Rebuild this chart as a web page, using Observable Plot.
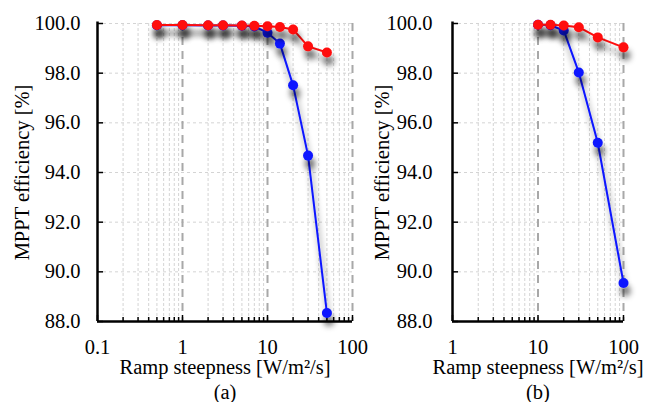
<!DOCTYPE html>
<html><head><meta charset="utf-8">
<script src="https://cdn.jsdelivr.net/npm/d3@7"></script>
<script src="https://cdn.jsdelivr.net/npm/@observablehq/plot@0.6"></script>
<style>
body{margin:0;background:#fff}
#wrap{position:relative;width:655px;height:402px;overflow:hidden}
#a,#b{position:absolute;top:0}
#a{left:0}
#b{left:360px}
</style>
</head><body><div id="wrap"><div id="a"></div><div id="b"></div></div>
<script>
// Panel (a)
const xA = [0.5, 1, 2, 3, 5, 7, 10, 14, 20, 30, 50];
const blueA = [99.93, 99.93, 99.92, 99.92, 99.91, 99.88, 99.63, 99.19, 97.51, 94.68, 88.34];
const redA = [99.94, 99.94, 99.93, 99.93, 99.92, 99.91, 99.89, 99.86, 99.76, 99.08, 98.83];
// Panel (b)
const xB = [10, 14, 20, 30, 50, 100];
const blueB = [99.95, 99.93, 99.72, 98.03, 95.20, 89.55];
const redB = [99.95, 99.95, 99.92, 99.85, 99.44, 99.04];
// Axes
const yTicks = [88, 90, 92, 94, 96, 98, 100];
const xTicksA = [0.1, 1, 10, 100];
const xTicksB = [1, 10, 100];
const yLabel = "MPPT efficiency [%]";
const xLabel = "Ramp steepness [W/m\u00b2/s]";
const captions = ["(a)", "(b)"];

function minorTicks(majors) {
  const out = [];
  for (let i = 0; i < majors.length - 1; i++)
    for (let d = 2; d <= 9; d++) out.push(+(majors[i] * d).toPrecision(6));
  return out;
}

function panel(el, id, cfg) {
  const {xs, blue, red, majors, width, marginLeft, marginRight, yPad, yLabelDx, caption} = cfg;
  const height = 402, marginTop = 23, marginBottom = 81;
  const innerH = height - marginTop - marginBottom;
  const innerW = width - marginLeft - marginRight;
  const minors = minorTicks(majors);
  const B = xs.map((x, i) => ({x, y: blue[i]}));
  const R = xs.map((x, i) => ({x, y: red[i]}));
  const svg = Plot.plot({
    width, height, marginTop, marginBottom, marginLeft, marginRight,
    style: {fontFamily: "'Liberation Serif', 'Times New Roman', serif", fontSize: "20.5px", background: "transparent", overflow: "visible", color: "black"},
    x: {type: "log", domain: [majors[0], majors[majors.length - 1]]},
    y: {domain: [88, 100]},
    marks: [
      Plot.ruleY(yTicks.slice(1), {y: d => d, stroke: "#d4d4d4", strokeWidth: 1, strokeDasharray: "3,3"}),
      Plot.ruleX(minors, {x: d => d, stroke: "#d4d4d4", strokeWidth: 1, strokeDasharray: "3,2"}),
      Plot.ruleX(majors.slice(1), {x: d => d, stroke: "#a8a8a8", strokeWidth: 2, strokeDasharray: "8,6"}),
      Plot.tickX(minors, {x: d => d, insetTop: innerH - 4, stroke: "black", strokeWidth: 1.5}),
      Plot.tickX(majors, {x: d => d, insetTop: innerH - 6, stroke: "black", strokeWidth: 1.5}),
      Plot.tickY(yTicks, {y: d => d, insetRight: innerW - 6, stroke: "black", strokeWidth: 1.5}),
      Plot.ruleX([majors[0]], {x: d => d, stroke: "black", strokeWidth: 2.5, insetTop: -1.5}),
      Plot.ruleY([88], {y: d => d, stroke: "black", strokeWidth: 2.5}),
      Plot.axisX(majors, {tickSize: 0, tickPadding: 18, tickFormat: d => String(d), label: null}),
      Plot.axisY(yTicks, {tickSize: 0, tickPadding: yPad, tickFormat: d3.format(".1f"), label: null}),
      Plot.line(B, {x: "x", y: "y", stroke: "#0a14ff", strokeWidth: 2}),
      Plot.dot(B, {x: "x", y: "y", r: 5, fill: "#0a14ff"}),
      Plot.line(R, {x: "x", y: "y", stroke: "#ff0a0a", strokeWidth: 2}),
      Plot.dot(R, {x: "x", y: "y", r: 5, fill: "#ff0a0a"}),
      Plot.text([yLabel], {text: d => d, frameAnchor: "left", textAnchor: "middle", lineAnchor: "middle", rotate: -90, dx: yLabelDx}),
      Plot.text([xLabel], {text: d => d, frameAnchor: "bottom", textAnchor: "middle", lineAnchor: "middle", dy: 46}),
      Plot.text([caption], {text: d => d, frameAnchor: "bottom", textAnchor: "middle", lineAnchor: "middle", dy: 71})
    ]
  });
  const s = d3.select(svg);
  s.insert("defs", ":first-child").html(
    `<filter id="sh-${id}" filterUnits="userSpaceOnUse" x="0" y="0" width="${width}" height="${height}">` +
    `<feGaussianBlur in="SourceAlpha" stdDeviation="3.2"/>` +
    `<feOffset dx="2" dy="8" result="o"/>` +
    `<feComponentTransfer><feFuncA type="linear" slope="0.55"/></feComponentTransfer>` +
    `<feMerge><feMergeNode/><feMergeNode in="SourceGraphic"/></feMerge></filter>`);
  s.selectAll('g[aria-label="line"], g[aria-label="dot"]').attr("filter", `url(#sh-${id})`);
  el.appendChild(svg);
}

panel(document.getElementById("a"), "a", {
  xs: xA, blue: blueA, red: redA, majors: xTicksA,
  width: 360, marginLeft: 97, marginRight: 8, yPad: 17, yLabelDx: -75, caption: captions[0]
});
panel(document.getElementById("b"), "b", {
  xs: xB, blue: blueB, red: redB, majors: xTicksB,
  width: 295, marginLeft: 92, marginRight: 32, yPad: 20, yLabelDx: -70, caption: captions[1]
});
</script>
</body></html>
